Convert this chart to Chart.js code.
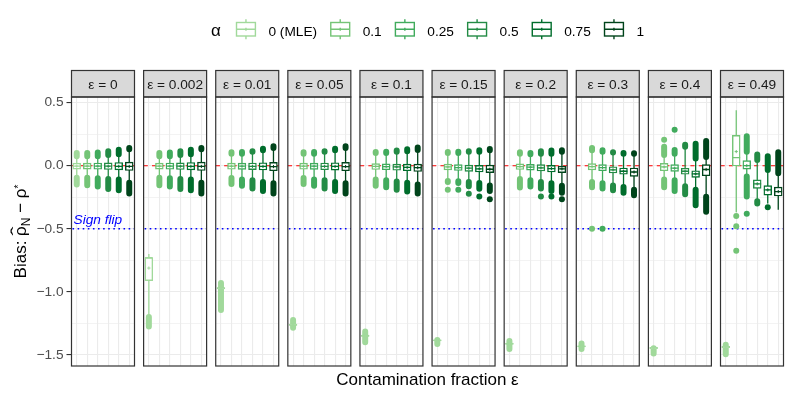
<!DOCTYPE html>
<html>
<head>
<meta charset="utf-8">
<script src="https://cdn.jsdelivr.net/npm/chart.js@4/dist/chart.umd.min.js"></script>
<style>
  html, body { margin: 0; padding: 0; background: #fff; }
  #chart { display: block; }
</style>
</head>
<body>
<canvas id="chart" width="793" height="397"></canvas>
<script>
const epsLabels = ["0", "0.002", "0.01", "0.05", "0.1", "0.15", "0.2", "0.3", "0.4", "0.49"];
const alphaLabels = ["0 (MLE)", "0.1", "0.25", "0.5", "0.75", "1"];
const alphaColors = ["#a1d99b", "#74c476", "#41ab5d", "#238b45", "#006d2c", "#00441b"];
const yTickValues = [0.5, 0, -0.5, -1, -1.5];
const yTickLabels = ["0.5", "0.0", "−0.5", "−1.0", "−1.5"];
const yGridValues = [-1.5, -1.25, -1, -0.75, -0.5, -0.25, 0, 0.25, 0.5];
const refZero = 0;
const refSignFlip = -0.5;

// rows: ε panels, columns: α
const boxLow = [
  [-0.027, -0.027, -0.028, -0.030, -0.033, -0.038],
  [-0.912, -0.027, -0.028, -0.030, -0.033, -0.038],
  [-0.978, -0.028, -0.029, -0.031, -0.034, -0.040],
  [-1.268, -0.028, -0.029, -0.032, -0.035, -0.040],
  [-1.354, -0.030, -0.032, -0.036, -0.040, -0.046],
  [-1.391, -0.033, -0.038, -0.045, -0.050, -0.055],
  [-1.417, -0.030, -0.035, -0.042, -0.050, -0.055],
  [-1.438, -0.033, -0.040, -0.058, -0.068, -0.085],
  [-1.451, -0.040, -0.045, -0.068, -0.092, -0.080],
  [-1.443, -0.002, -0.027, -0.180, -0.233, -0.240],
];
const boxMid = [
  [-0.003, -0.003, -0.003, -0.004, -0.005, -0.006],
  [-0.730, -0.003, -0.003, -0.004, -0.005, -0.006],
  [-0.972, -0.004, -0.004, -0.005, -0.006, -0.007],
  [-1.262, -0.004, -0.004, -0.005, -0.006, -0.007],
  [-1.349, -0.006, -0.008, -0.010, -0.013, -0.016],
  [-1.386, -0.010, -0.015, -0.020, -0.025, -0.028],
  [-1.412, -0.007, -0.012, -0.017, -0.023, -0.025],
  [-1.433, -0.007, -0.015, -0.033, -0.044, -0.050],
  [-1.446, -0.010, -0.020, -0.044, -0.065, -0.030],
  [-1.438, 0.064, 0.000, -0.144, -0.192, -0.205],
];
const boxHigh = [
  [0.020, 0.020, 0.021, 0.022, 0.025, 0.028],
  [-0.730, 0.020, 0.021, 0.022, 0.025, 0.028],
  [-0.966, 0.020, 0.020, 0.021, 0.023, 0.026],
  [-1.256, 0.020, 0.020, 0.021, 0.023, 0.026],
  [-1.344, 0.016, 0.014, 0.013, 0.012, 0.012],
  [-1.381, 0.012, 0.008, 0.005, 0.003, 0.005],
  [-1.407, 0.015, 0.010, 0.008, 0.003, 0.000],
  [-1.428, 0.017, 0.008, -0.008, -0.018, -0.018],
  [-1.441, 0.018, 0.008, -0.020, -0.040, 0.008],
  [-1.433, 0.240, 0.040, -0.113, -0.158, -0.170],
];
const boxMean = [
  [-0.003, -0.003, -0.003, -0.004, -0.005, -0.006],
  [-0.812, -0.003, -0.003, -0.004, -0.005, -0.006],
  [-0.972, -0.004, -0.004, -0.005, -0.006, -0.007],
  [-1.262, -0.004, -0.004, -0.005, -0.006, -0.007],
  [-1.349, -0.006, -0.008, -0.010, -0.013, -0.016],
  [-1.386, -0.010, -0.015, -0.020, -0.025, -0.028],
  [-1.412, -0.007, -0.012, -0.017, -0.023, -0.025],
  [-1.433, -0.007, -0.015, -0.033, -0.044, -0.050],
  [-1.446, -0.010, -0.020, -0.044, -0.065, -0.030],
  [-1.438, 0.112, 0.000, -0.144, -0.192, -0.205],
];
const whiskerHigh = [
  [0.075, 0.075, 0.075, 0.085, 0.090, 0.130],
  [-0.700, 0.075, 0.075, 0.085, 0.090, 0.130],
  [-0.966, 0.095, 0.095, 0.110, 0.123, 0.140],
  [-1.256, 0.095, 0.095, 0.110, 0.123, 0.140],
  [-1.344, 0.100, 0.100, 0.110, 0.115, 0.125],
  [-1.381, 0.100, 0.100, 0.110, 0.110, 0.123],
  [-1.407, 0.095, 0.090, 0.095, 0.095, 0.110],
  [-1.428, 0.123, 0.110, 0.105, 0.095, 0.095],
  [-1.441, 0.085, 0.095, 0.150, 0.057, 0.070],
  [-1.433, 0.440, 0.110, 0.045, -0.035, -0.060],
];
const whiskerLow = [
  [-0.095, -0.095, -0.100, -0.105, -0.110, -0.135],
  [-1.200, -0.095, -0.100, -0.105, -0.110, -0.135],
  [-0.978, -0.097, -0.110, -0.115, -0.130, -0.140],
  [-1.268, -0.097, -0.110, -0.115, -0.130, -0.140],
  [-1.354, -0.110, -0.115, -0.125, -0.135, -0.150],
  [-1.391, -0.122, -0.123, -0.130, -0.138, -0.158],
  [-1.417, -0.105, -0.115, -0.130, -0.140, -0.160],
  [-1.438, -0.130, -0.140, -0.158, -0.168, -0.190],
  [-1.451, -0.110, -0.115, -0.163, -0.190, -0.247],
  [-1.443, -0.370, -0.085, -0.282, -0.300, -0.350],
];
// dense outlier runs: [panel, alpha, from, to]
const outlierRuns = [
  [0, 0, 0.075, 0.100], [0, 0, -0.095, -0.150],
  [0, 1, 0.075, 0.100], [0, 1, -0.095, -0.155],
  [0, 2, 0.075, 0.105], [0, 2, -0.100, -0.165],
  [0, 3, 0.085, 0.115], [0, 3, -0.105, -0.185],
  [0, 4, 0.090, 0.127], [0, 4, -0.110, -0.195],
  [0, 5, 0.130, 0.140], [0, 5, -0.135, -0.220],
  [1, 0, -1.200, -1.275],
  [1, 1, 0.075, 0.100], [1, 1, -0.095, -0.155],
  [1, 2, 0.075, 0.105], [1, 2, -0.100, -0.165],
  [1, 3, 0.085, 0.115], [1, 3, -0.105, -0.185],
  [1, 4, 0.090, 0.127], [1, 4, -0.110, -0.195],
  [1, 5, 0.130, 0.140], [1, 5, -0.135, -0.220],
  [2, 0, -0.930, -1.145],
  [2, 1, 0.095, 0.107], [2, 1, -0.097, -0.146],
  [2, 2, 0.095, 0.108], [2, 2, -0.110, -0.160],
  [2, 3, 0.110, 0.115], [2, 3, -0.115, -0.180],
  [2, 4, 0.123, 0.135], [2, 4, -0.130, -0.200],
  [2, 5, 0.140, 0.155], [2, 5, -0.140, -0.220],
  [3, 0, -1.225, -1.285],
  [3, 1, 0.095, 0.107], [3, 1, -0.097, -0.146],
  [3, 2, 0.095, 0.108], [3, 2, -0.110, -0.160],
  [3, 3, 0.110, 0.115], [3, 3, -0.115, -0.180],
  [3, 4, 0.123, 0.135], [3, 4, -0.130, -0.200],
  [3, 5, 0.140, 0.155], [3, 5, -0.140, -0.220],
  [4, 0, -1.315, -1.400],
  [4, 1, 0.100, 0.108], [4, 1, -0.110, -0.160],
  [4, 2, 0.100, 0.110], [4, 2, -0.115, -0.170],
  [4, 3, 0.110, 0.120], [4, 3, -0.125, -0.190],
  [4, 4, 0.115, 0.130], [4, 4, -0.135, -0.205],
  [4, 5, 0.125, 0.145], [4, 5, -0.150, -0.220],
  [5, 0, -1.383, -1.415],
  [5, 1, 0.100, 0.108], [5, 1, -0.122, -0.130],
  [5, 2, 0.100, 0.110], [5, 2, -0.123, -0.138],
  [5, 3, 0.110, 0.115], [5, 3, -0.130, -0.163],
  [5, 4, 0.110, 0.123], [5, 4, -0.138, -0.182],
  [5, 5, 0.123, 0.133], [5, 5, -0.158, -0.200],
  [6, 0, -1.390, -1.455],
  [6, 1, 0.095, 0.107], [6, 1, -0.105, -0.173],
  [6, 2, 0.090, 0.100], [6, 2, -0.115, -0.165],
  [6, 3, 0.095, 0.115], [6, 3, -0.130, -0.180],
  [6, 4, 0.095, 0.120], [6, 4, -0.140, -0.200],
  [6, 5, 0.110, 0.123], [6, 5, -0.160, -0.215],
  [7, 0, -1.410, -1.455],
  [7, 1, 0.123, 0.140], [7, 1, -0.130, -0.170],
  [7, 2, 0.110, 0.123], [7, 2, -0.140, -0.180],
  [7, 3, 0.105, 0.106], [7, 3, -0.158, -0.195],
  [7, 4, 0.095, 0.100], [7, 4, -0.168, -0.215],
  [7, 5, 0.095, 0.098], [7, 5, -0.190, -0.235],
  [8, 0, -1.449, -1.490],
  [8, 1, 0.085, 0.150], [8, 1, -0.110, -0.170],
  [8, 2, 0.095, 0.125], [8, 2, -0.115, -0.200],
  [8, 3, 0.150, 0.166], [8, 3, -0.163, -0.226],
  [8, 4, 0.057, 0.175], [8, 4, -0.190, -0.313],
  [8, 5, 0.070, 0.195], [8, 5, -0.247, -0.366],
  [9, 0, -1.420, -1.495],
  [9, 2, 0.110, 0.234], [9, 2, -0.085, -0.245],
  [9, 3, 0.045, 0.088], [9, 3, -0.282, -0.300],
  [9, 4, -0.035, 0.075],
  [9, 5, -0.060, 0.107],
];
// single outliers: [panel, alpha, value]
const outlierDots = [
  [5, 1, -0.190], [5, 2, -0.190], [5, 3, -0.222], [5, 4, -0.245], [5, 5, -0.266],
  [6, 3, -0.245], [6, 4, -0.245], [6, 5, -0.266],
  [7, 1, -0.500], [7, 2, -0.500],
  [8, 1, 0.205], [8, 2, 0.285],
  [9, 1, -0.400], [9, 1, -0.480], [9, 1, -0.675], [9, 2, -0.382], [9, 4, -0.329],
];

const FONT = '"Liberation Sans", Arial, Helvetica, sans-serif';
const PANEL_STRIDE = 6.868; // x units from one facet to the next (6 slots + gap)
const catPos = (p, a) => p * PANEL_STRIDE + a;
const panelLeft = (p) => catPos(p, 0) - 0.5;
const panelRight = (p) => catPos(p, alphaLabels.length - 1) + 0.5;

Chart.defaults.font.family = FONT;

function buildDatasets() {
  const sets = [];
  alphaLabels.forEach((label, a) => {
    const color = alphaColors[a];
    const whisk = [], box = [], med = [], mean = [], runs = [], dots = [];
    epsLabels.forEach((_, p) => {
      const x = catPos(p, a);
      whisk.push({ x, y: whiskerLow[p][a] }, { x, y: whiskerHigh[p][a] }, { x, y: null });
      box.push({ x, y: [boxLow[p][a], boxHigh[p][a]] });
      med.push({ x, y: boxMid[p][a] });
      mean.push({ x, y: boxMean[p][a] });
    });
    outlierRuns.filter((r) => r[1] === a).forEach(([p, , lo, hi]) => {
      const x = catPos(p, a);
      runs.push({ x, y: lo }, { x, y: hi }, { x, y: null });
    });
    outlierDots.filter((d) => d[1] === a).forEach(([p, , v]) => dots.push({ x: catPos(p, a), y: v }));

    sets.push(
      { type: "line", label, data: whisk, borderColor: color, borderWidth: 1.3, pointRadius: 0, spanGaps: false, tension: 0, order: 5 },
      { type: "line", label, data: runs, borderColor: color, borderWidth: 6, borderCapStyle: "round", pointRadius: 0, spanGaps: false, tension: 0, order: 4 },
      { type: "scatter", label, data: dots, backgroundColor: color, borderWidth: 0, pointRadius: 3, order: 4 },
      { type: "bar", label, data: box, backgroundColor: "#ffffff", borderColor: color, borderWidth: 1.4, borderSkipped: false, barThickness: 7.8, grouped: false, order: 3 },
      { type: "scatter", label, data: med, pointStyle: "line", pointRadius: 3.9, borderColor: color, borderWidth: 1.3, order: 2 },
      { type: "scatter", label, data: mean, pointStyle: "cross", pointRadius: 1.6, borderColor: color, borderWidth: 1, order: 1 },
    );
  });
  return sets;
}

function drawYTitle(ctx, cx, cy) {
  const big = `17px ${FONT}`;
  const small = `12px ${FONT}`;
  const parts = [
    { t: "Bias: ", f: big, dy: 0 },
    { t: "ρ", f: big, dy: 0, hat: true },
    { t: "N", f: small, dy: 4 },
    { t: " − ρ", f: big, dy: 0 },
    { t: "*", f: `10px ${FONT}`, dy: -4.5 },
  ];
  ctx.save();
  ctx.translate(cx, cy);
  ctx.rotate(-Math.PI / 2);
  ctx.fillStyle = "#000";
  ctx.textBaseline = "alphabetic";
  const widths = parts.map((p) => { ctx.font = p.f; return ctx.measureText(p.t).width; });
  let x = -widths.reduce((s, w) => s + w, 0) / 2;
  parts.forEach((p, i) => {
    ctx.font = p.f;
    ctx.fillText(p.t, x, 6 + p.dy);
    if (p.hat) {
      ctx.save();
      ctx.font = big;
      const hw = ctx.measureText("ˆ").width;
      ctx.translate(x + widths[i] / 2, 3);
      ctx.scale(1.6, 1);
      ctx.fillText("ˆ", -hw / 2, 0);
      ctx.restore();
    }
    x += widths[i];
  });
  ctx.restore();
}

function drawLegend(ctx, centerX) {
  const keyW = 20.3, keyGap = 12.3, itemGap = 13, titleGap = 15;
  ctx.save();
  ctx.font = `17px ${FONT}`;
  const wTitle = ctx.measureText("α").width;
  ctx.font = `13.7px ${FONT}`;
  const wItems = alphaLabels.map((l) => ctx.measureText(l).width);
  const total = wTitle + titleGap + alphaLabels.length * (keyW + keyGap) +
    wItems.reduce((s, w) => s + w, 0) + (alphaLabels.length - 1) * itemGap;
  let x = centerX - total / 2;
  ctx.fillStyle = "#000";
  ctx.textBaseline = "alphabetic";
  ctx.font = `17px ${FONT}`;
  ctx.fillText("α", x, 35.8);
  x += wTitle + titleGap;
  alphaLabels.forEach((label, a) => {
    const cx = x + keyW / 2;
    ctx.strokeStyle = alphaColors[a];
    ctx.lineWidth = 1.4;
    ctx.beginPath();
    ctx.moveTo(cx, 19.3); ctx.lineTo(cx, 22.5);
    ctx.moveTo(cx, 36); ctx.lineTo(cx, 39.3);
    ctx.moveTo(x + 0.7, 29.3); ctx.lineTo(x + keyW - 0.7, 29.3);
    ctx.moveTo(cx, 27.8); ctx.lineTo(cx, 30.8);
    ctx.stroke();
    ctx.strokeRect(x + 0.7, 22.5, keyW - 1.4, 13.5);
    ctx.font = `13.7px ${FONT}`;
    ctx.fillText(label, x + keyW + keyGap, 35.7);
    x += keyW + keyGap + wItems[a] + itemGap;
  });
  ctx.restore();
}

const facetPlugin = {
  id: "facets",
  beforeDatasetsDraw(chart) {
    const { ctx, chartArea: area, scales: { x, y } } = chart;
    ctx.save();
    ctx.fillStyle = "#ffffff";
    for (let p = 0; p < epsLabels.length - 1; p++) {
      const r = x.getPixelForValue(panelRight(p));
      const l = x.getPixelForValue(panelLeft(p + 1));
      ctx.fillRect(r, area.top - 1, l - r, area.bottom - area.top + 2);
    }
    const y0 = y.getPixelForValue(refZero);
    const yFlip = y.getPixelForValue(refSignFlip);
    epsLabels.forEach((_, p) => {
      const l = x.getPixelForValue(panelLeft(p));
      const r = x.getPixelForValue(panelRight(p));
      ctx.strokeStyle = "#ff0000";
      ctx.lineWidth = 1.1;
      ctx.setLineDash([4.2, 4.2]);
      ctx.beginPath(); ctx.moveTo(l, y0); ctx.lineTo(r, y0); ctx.stroke();
      ctx.strokeStyle = "#0000ff";
      ctx.lineWidth = 1.6;
      ctx.setLineDash([1.6, 3.5]);
      ctx.beginPath(); ctx.moveTo(l + 1, yFlip); ctx.lineTo(r, yFlip); ctx.stroke();
    });
    ctx.restore();
  },
  afterDatasetsDraw(chart) {
    const { ctx, chartArea: area, scales: { x, y } } = chart;
    ctx.save();
    // sign flip note
    ctx.fillStyle = "#0000ff";
    ctx.font = `italic 13.7px ${FONT}`;
    ctx.textBaseline = "alphabetic";
    ctx.fillText("Sign flip", area.left + 2, y.getPixelForValue(refSignFlip) - 4.5);
    // panels and strips
    const stripTop = 70.5;
    epsLabels.forEach((eps, p) => {
      const l = x.getPixelForValue(panelLeft(p));
      const r = x.getPixelForValue(panelRight(p));
      ctx.fillStyle = "#d9d9d9";
      ctx.fillRect(l, stripTop, r - l, area.top - stripTop);
      ctx.strokeStyle = "#333333";
      ctx.lineWidth = 1.2;
      ctx.setLineDash([]);
      ctx.strokeRect(l, stripTop, r - l, area.top - stripTop);
      ctx.strokeRect(l, area.top, r - l, area.bottom - area.top);
      ctx.fillStyle = "#1a1a1a";
      ctx.font = `13.7px ${FONT}`;
      ctx.textAlign = "center";
      ctx.fillText(`ε = ${eps}`, (l + r) / 2, 89.3);
    });
    // axis titles
    ctx.fillStyle = "#000";
    ctx.font = `17px ${FONT}`;
    ctx.textAlign = "center";
    ctx.fillText("Contamination fraction ε", (area.left + area.right) / 2, 384.5);
    ctx.textAlign = "left";
    ctx.restore();
    drawYTitle(ctx, 20, (area.top + area.bottom) / 2);
    drawLegend(ctx, (area.left + area.right) / 2);
  },
};

const isMajor = (v) => yTickValues.some((t) => Math.abs(t - v) < 1e-9);

new Chart(document.getElementById("chart"), {
  type: "bar",
  data: { datasets: buildDatasets() },
  options: {
    responsive: false,
    animation: false,
    devicePixelRatio: 1,
    layout: { padding: { top: 97, right: 9.5, bottom: 0, left: 0 } },
    plugins: { legend: { display: false }, tooltip: { enabled: false }, title: { display: false } },
    scales: {
      x: {
        type: "linear",
        offset: false,
        min: panelLeft(0),
        max: panelRight(epsLabels.length - 1),
        afterBuildTicks: (axis) => {
          const ticks = [];
          epsLabels.forEach((_, p) => alphaLabels.forEach((__, a) => ticks.push({ value: catPos(p, a) })));
          axis.ticks = ticks;
        },
        afterFit: (axis) => { axis.height = 31; },
        ticks: { display: false },
        grid: { color: "#ebebeb", lineWidth: 1.1, drawTicks: false, offset: false },
        border: { display: false },
      },
      y: {
        type: "linear",
        min: -1.589,
        max: 0.545,
        afterBuildTicks: (axis) => { axis.ticks = yGridValues.map((v) => ({ value: v })); },
        afterFit: (axis) => { axis.width = 71.5; },
        ticks: {
          autoSkip: false,
          padding: 3,
          color: "#4d4d4d",
          font: { size: 13.7, family: FONT },
          callback: (v) => (isMajor(v) ? yTickLabels[yTickValues.findIndex((t) => Math.abs(t - v) < 1e-9)] : ""),
        },
        grid: {
          color: "#ebebeb",
          lineWidth: (c) => (isMajor(c.tick.value) ? 1.1 : 0.6),
          tickLength: 5,
          tickWidth: 1.1,
          tickColor: (c) => (isMajor(c.tick.value) ? "#333333" : "rgba(0,0,0,0)"),
        },
        border: { display: false },
      },
    },
  },
  plugins: [facetPlugin],
});
</script>
</body>
</html>
